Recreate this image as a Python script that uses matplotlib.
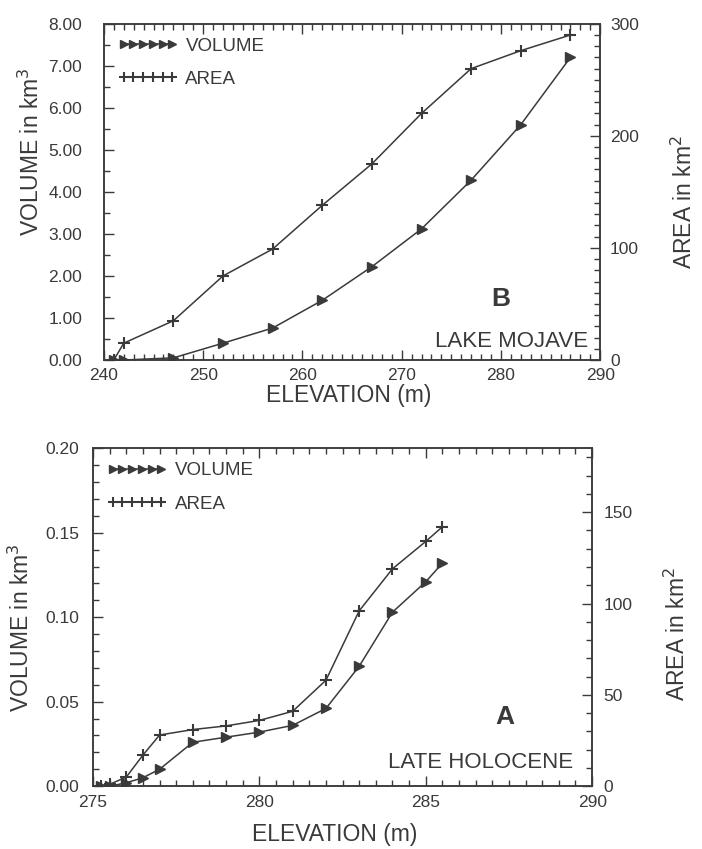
import matplotlib
matplotlib.use("Agg")
import matplotlib.pyplot as plt
from matplotlib.ticker import MultipleLocator, FormatStrFormatter

plt.rcParams['font.family'] = ['Liberation Sans', 'DejaVu Sans']

# Lake Mojave (panel B)
mojave_elev = [241, 242, 247, 252, 257, 262, 267, 272, 277, 282, 287]
mojave_volume = [0.0, 0.0, 0.05, 0.40, 0.76, 1.42, 2.22, 3.12, 4.28, 5.6, 7.2]
mojave_area = [0, 15, 35, 75, 99, 138, 175, 220, 260, 276, 290]

# Late Holocene (panel A)
holo_elev = [275.25, 275.5, 276, 276.5, 277, 278, 279, 280, 281, 282, 283, 284, 285, 285.5]
holo_volume = [0.0, 0.0, 0.002, 0.005, 0.01, 0.026, 0.029, 0.032, 0.036, 0.046, 0.071, 0.103, 0.121, 0.132]
holo_area = [0, 1, 5, 17, 28, 31, 33, 36, 41, 58, 96, 119, 134, 142]

ink = '#3a3a3a'
tick_fs = 12.5
label_fs = 16.5

fig = plt.figure(figsize=(7.02, 8.49), dpi=100)


def panel(rect, elev, vol, area, xlim, xmaj, xmin, ylim, ymaj, ymin,
          alim, amaj, amin, letter, name, letter_pos, name_pos,
          lpad, rpad, vol_lab, area_lab, elev_lab):
    ax = fig.add_axes(rect)
    ax2 = ax.twinx()
    ax.plot(elev, vol, color=ink, lw=1.1, marker='>', ms=7, mfc=ink, mec=ink,
            label='VOLUME')
    ax2.plot(elev, area, color=ink, lw=1.1, marker='+', ms=9, mew=1.5,
             mec=ink, label='AREA')
    ax.set_xlim(*xlim)
    ax.set_ylim(*ylim)
    ax2.set_ylim(*alim)
    ax.xaxis.set_major_locator(MultipleLocator(xmaj))
    ax.xaxis.set_minor_locator(MultipleLocator(xmin))
    ax.yaxis.set_major_locator(MultipleLocator(ymaj))
    ax.yaxis.set_minor_locator(MultipleLocator(ymin))
    ax.yaxis.set_major_formatter(FormatStrFormatter('%.2f'))
    ax2.yaxis.set_major_locator(MultipleLocator(amaj))
    ax2.yaxis.set_minor_locator(MultipleLocator(amin))
    for a in (ax, ax2):
        for s in a.spines.values():
            s.set_color(ink)
            s.set_linewidth(1.1)
    ax.tick_params(which='both', direction='in', top=True, right=False,
                   colors=ink, labelsize=tick_fs, width=1)
    ax.tick_params(which='major', length=7)
    ax.tick_params(which='minor', length=4)
    ax.tick_params(axis='x', which='major', pad=6)
    ax.tick_params(axis='y', which='major', pad=lpad)
    ax2.tick_params(which='both', direction='in', colors=ink,
                    labelsize=tick_fs, width=1)
    ax2.tick_params(which='major', length=7, pad=rpad)
    ax2.tick_params(which='minor', length=4)

    ax.set_xlabel('ELEVATION (m)', fontsize=label_fs, color=ink)
    ax.set_ylabel('VOLUME in km$^3$', fontsize=label_fs, color=ink)
    ax2.set_ylabel('AREA in km$^2$', fontsize=label_fs, color=ink)
    ax.xaxis.set_label_coords(*elev_lab)
    ax.yaxis.set_label_coords(*vol_lab)
    ax2.yaxis.set_label_coords(*area_lab)

    h1, l1 = ax.get_legend_handles_labels()
    h2, l2 = ax2.get_legend_handles_labels()
    leg = ax.legend(h1 + h2, l1 + l2, loc='upper left', frameon=False,
                    numpoints=6, markerscale=0.8, handlelength=3.2,
                    handletextpad=0.4, fontsize=13.5, labelspacing=0.85,
                    borderaxespad=0.35)
    for t in leg.get_texts():
        t.set_color(ink)

    ax.text(letter_pos[0], letter_pos[1], letter, transform=ax.transAxes,
            fontsize=19, fontweight='bold', color=ink, ha='center', va='center')
    ax.text(name_pos[0], name_pos[1], name, transform=ax.transAxes,
            fontsize=16, color=ink, ha='right', va='center')
    return ax


panel([0.148, 0.576, 0.707, 0.396], mojave_elev, mojave_volume, mojave_area,
      (240, 290), 10, 1, (0, 8), 1, 0.5, (0, 300), 100, 10,
      'B', 'LAKE MOJAVE', (0.80, 0.18), (0.975, 0.055),
      15.5, 7, (-0.121, 0.62), (1.145, 0.47), (0.494, -0.07))

panel([0.1325, 0.074, 0.711, 0.398], holo_elev, holo_volume, holo_area,
      (275, 290), 5, 0.5, (0, 0.20), 0.05, 0.01, (0, 185), 50, 10,
      'A', 'LATE HOLOCENE', (0.826, 0.204), (0.962, 0.071),
      10, 8, (-0.118, 0.47), (1.145, 0.45), (0.485, -0.11))

fig.savefig('out.png', dpi=100)
